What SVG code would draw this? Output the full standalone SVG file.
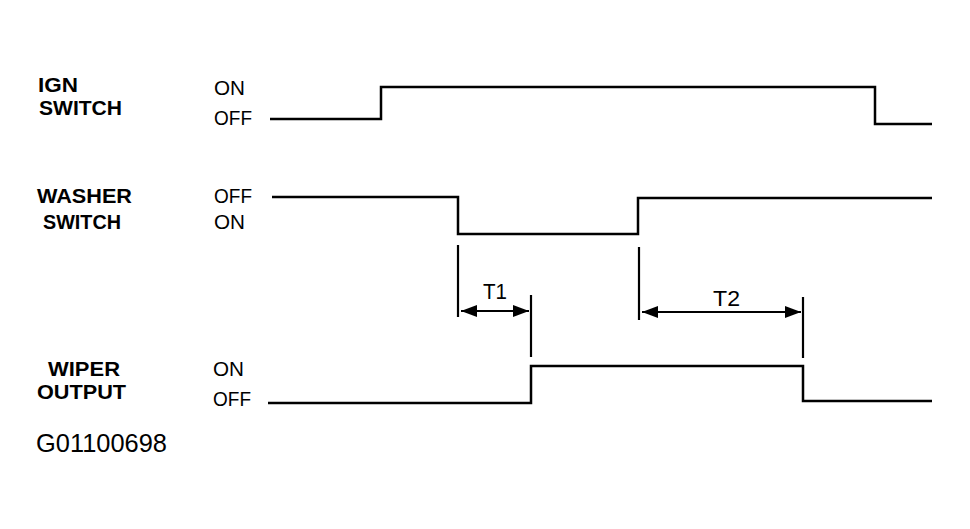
<svg xmlns="http://www.w3.org/2000/svg" width="970" height="529" viewBox="0 0 970 529">
<style>
.lbl{font-family:"Liberation Sans",Arial,sans-serif;font-size:21px;font-weight:bold;fill:#000}
.st{font-family:"Liberation Sans",Arial,sans-serif;font-size:21px;fill:#000}
.wave{fill:none;stroke:#000;stroke-width:2.5;stroke-linejoin:miter}
.tick{fill:none;stroke:#000;stroke-width:2.2}
.dim{fill:none;stroke:#000;stroke-width:2.2}
</style>
<defs>
<marker id="ah" viewBox="0 0 16 12" refX="16" refY="6" markerWidth="16" markerHeight="12" markerUnits="userSpaceOnUse" orient="auto-start-reverse">
<path d="M0,0 L16,6 L0,12 Z" fill="#000"/>
</marker>
</defs>
<rect width="970" height="529" fill="#fff"/>
<g id="ign">
<text class="lbl" x="38" y="92" textLength="40" lengthAdjust="spacingAndGlyphs">IGN</text>
<text class="lbl" x="39" y="115" textLength="83" lengthAdjust="spacingAndGlyphs">SWITCH</text>
<text class="st" x="214" y="95" textLength="31" lengthAdjust="spacingAndGlyphs">ON</text>
<text class="st" x="214" y="125" textLength="38" lengthAdjust="spacingAndGlyphs">OFF</text>
<path class="wave" d="M270,119 H381 V87 H875 V124 H932"/>
</g>
<g id="washer">
<text class="lbl" x="37" y="203" textLength="95" lengthAdjust="spacingAndGlyphs">WASHER</text>
<text class="lbl" x="43" y="229" textLength="78" lengthAdjust="spacingAndGlyphs">SWITCH</text>
<text class="st" x="214" y="203" textLength="38" lengthAdjust="spacingAndGlyphs">OFF</text>
<text class="st" x="214" y="229" textLength="31" lengthAdjust="spacingAndGlyphs">ON</text>
<path class="wave" d="M272,197 H458 V234 H638 V198 H932"/>
</g>
<g id="wiper">
<text class="lbl" x="48" y="376" textLength="72" lengthAdjust="spacingAndGlyphs">WIPER</text>
<text class="lbl" x="37" y="399" textLength="89" lengthAdjust="spacingAndGlyphs">OUTPUT</text>
<text class="st" x="213" y="376" textLength="31" lengthAdjust="spacingAndGlyphs">ON</text>
<text class="st" x="213" y="406" textLength="38" lengthAdjust="spacingAndGlyphs">OFF</text>
<path class="wave" d="M268,403 H531 V366 H803 V401 H932"/>
</g>
<g id="connectors">
<line class="tick" x1="458" y1="245" x2="458" y2="317"/>
<line class="tick" x1="531" y1="295" x2="531" y2="357"/>
<line class="tick" x1="639" y1="247" x2="639" y2="320"/>
<line class="tick" x1="803" y1="297" x2="803" y2="358"/>
<line class="dim" x1="461" y1="311" x2="529" y2="311" marker-start="url(#ah)" marker-end="url(#ah)"/>
<line class="dim" x1="642" y1="312" x2="801" y2="312" marker-start="url(#ah)" marker-end="url(#ah)"/>
</g>
<g id="t1"><text class="st" x="483" y="299" style="font-size:22px" textLength="24" lengthAdjust="spacingAndGlyphs">T1</text></g>
<g id="t2"><text class="st" x="713" y="306" style="font-size:22px" textLength="27" lengthAdjust="spacingAndGlyphs">T2</text></g>
<text class="st" x="36" y="452" style="font-size:25px" textLength="131" lengthAdjust="spacingAndGlyphs">G01100698</text>
</svg>
